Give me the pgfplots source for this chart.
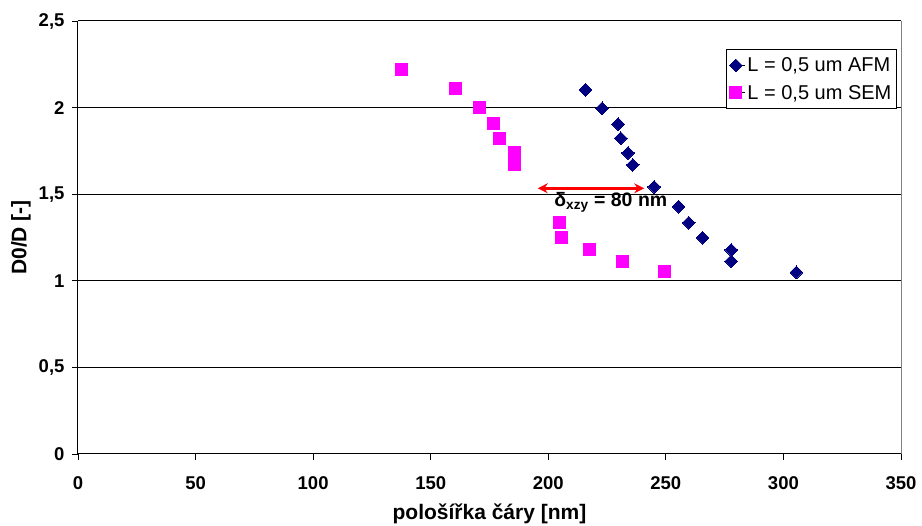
\documentclass[border=0pt]{standalone}
\usepackage{fontspec}
\setmainfont{Liberation Sans}
\usepackage{pgfplots}
\pgfplotsset{compat=1.18}
\usetikzlibrary{arrows.meta}
\definecolor{afm}{RGB}{0,0,128}
\definecolor{sem}{RGB}{255,0,255}
\begin{document}
\begin{tikzpicture}[x=1pt,y=1pt]
\useasboundingbox (-78,-72) rectangle (844,454);
\begin{axis}[
  at={(0pt,0pt)}, anchor=south west,
  scale only axis, width=823pt, height=433pt,
  xmin=0, xmax=350, ymin=0, ymax=2.5,
  xtick={0,50,100,150,200,250,300,350},
  ytick={0,0.5,1,1.5,2,2.5},
  xticklabels={0,50,100,150,200,250,300,350},
  yticklabels={0,{0,5},1,{1,5},2,{2,5}},
  axis x line=bottom, axis y line=left,
  axis line style={-, black, line width=1pt},
  tick align=outside, major tick length=6pt,
  tick style={black, line width=0.8pt},
  ymajorgrids, major grid style={black, line width=1pt},
  ticklabel style={font=\fontsize{18.5}{20}\selectfont\bfseries},
  xticklabel style={yshift=-13pt},
  yticklabel style={xshift=-4pt},
  xlabel={pološířka čáry [nm]},
  ylabel={D0/D [-]},
  every axis x label/.style={at={(rel axis cs:0.5,0)}, anchor=center, yshift=-60pt, font=\fontsize{21}{24}\selectfont\bfseries},
  every axis y label/.style={at={(rel axis cs:0,0.5)}, rotate=90, anchor=center, yshift=57pt, font=\fontsize{21}{24}\selectfont\bfseries},
  legend style={at={(rel axis cs:0.995,0.935)}, anchor=north east, draw=black, line width=1pt,
    font=\fontsize{20}{23}\selectfont, inner xsep=3pt, inner ysep=6pt, row sep=8pt},
  legend cell align=left,
  legend image code/.code={\path (0pt,0pt) -- (14pt,0pt); \draw[#1] plot coordinates {(5pt,0pt)};},
  clip=false,
]
\addplot[only marks, mark=square*, mark size=4.5pt, mark options={rotate=45, draw=afm, fill=afm, line width=0pt}]
  table {
x y
215.8 2.103
222.9 1.996
229.7 1.904
230.8 1.823
233.9 1.738
235.9 1.669
245.0 1.542
255.4 1.428
259.7 1.335
265.6 1.249
277.8 1.178
277.8 1.113
305.5 1.049
};
\addlegendentry{L = 0,5 um AFM}
\addplot[only marks, mark=square*, mark size=6pt, mark options={draw=sem, fill=sem, line width=0pt}]
  table {
x y
137.5 2.221
160.6 2.109
170.6 1.999
176.6 1.909
179.4 1.823
185.7 1.742
185.7 1.669
204.7 1.338
205.6 1.251
217.6 1.178
231.5 1.114
249.6 1.053
};
\addlegendentry{L = 0,5 um SEM}
\draw[gray, line width=1pt] (rel axis cs:1,0) -- (rel axis cs:1,1);
\draw[red, line width=2.5pt, {Stealth[length=10pt,width=10pt]}-{Stealth[length=10pt,width=10pt]}] (axis cs:195.5,1.534) -- (axis cs:240.8,1.534);
\node[anchor=base west, inner sep=0pt, font=\fontsize{19.5}{22}\selectfont\bfseries] at (axis cs:202.5,1.428) {δ\textsubscript{xzy} = 80 nm};
\end{axis}
\end{tikzpicture}
\end{document}
